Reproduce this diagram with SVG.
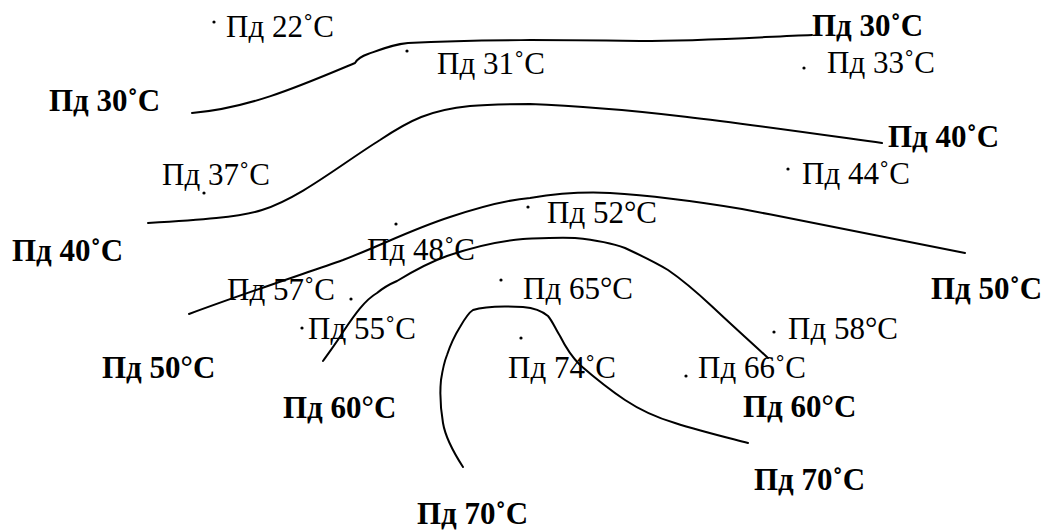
<svg xmlns="http://www.w3.org/2000/svg" width="1050" height="531" viewBox="0 0 1050 531">
<style>
text{font-family:"Liberation Serif","Times New Roman",serif;font-size:31px;fill:#000}
.b{font-weight:bold}
.iso{fill:none;stroke:#000;stroke-width:2;stroke-linecap:round;stroke-linejoin:round}
circle{fill:#000}
</style>
<rect width="1050" height="531" fill="#fff"/>
<g id="connectors">
<path id="iso30" class="iso" d="M192,113 C250,108 300,86 355,63 C358,58 362,56 368,54 C385,48 395,44 408,43 C480,39 560,40 640,41 C700,41 760,37 812,35"/>
<path id="iso40" class="iso" d="M148,223 C200,220 240,217 262,210 C300,198 340,165 380,140 C410,120 430,110 470,106 C490,104 510,104 530,104 C640,108 760,126 882,143"/>
<path id="iso50" class="iso" d="M189,314 C240,295 300,275 343,260 C380,246 410,230 450,217 C480,207 505,200 530,198 C560,193 590,192 610,193 C660,196 700,202 742,209 C820,224 900,240 965,253"/>
<path id="iso60" class="iso" d="M323,361 C330,351 337,342 343,332 C355,314 365,300 377,293 C383,288 390,284 397,281 C415,270 430,262 447,256 C470,248 500,241 523,239 C545,238 560,237 575,238 C595,240 612,243 625,248 C640,255 655,262 668,270 C690,285 705,300 718,312 C735,328 752,343 768,358"/>
<path id="iso70" class="iso" d="M463,467 C452,450 445,435 443,423 C440,405 440,390 441,380 C443,367 445,360 447,355 C451,343 455,335 460,327 C464,320 468,313 473,310 C485,306 505,306 523,307 C535,308 542,311 548,316 C553,322 556,330 560,336 C566,348 572,357 580,365 C595,378 610,390 625,400 C640,410 658,418 675,423 C700,431 725,437 748,443"/>
</g>
<g id="labels-iso">
<g id="l30a"><text class="b" x="49" y="111">Пд 30˚C</text></g>
<g id="l30b"><text class="b" x="812" y="36">Пд 30˚C</text></g>
<g id="l40a"><text class="b" x="12" y="261">Пд 40˚C</text></g>
<g id="l40b"><text class="b" x="888" y="147">Пд 40˚C</text></g>
<g id="l50a"><text class="b" x="102" y="378">Пд 50°C</text></g>
<g id="l50b"><text class="b" x="931" y="299">Пд 50˚C</text></g>
<g id="l60a"><text class="b" x="283" y="418">Пд 60°C</text></g>
<g id="l60b"><text class="b" x="743" y="417">Пд 60°C</text></g>
<g id="l70a"><text class="b" x="417" y="524">Пд 70˚C</text></g>
<g id="l70b"><text class="b" x="754" y="490">Пд 70˚C</text></g>
</g>
<g id="points">
<g id="p22"><circle cx="214" cy="22" r="1.6"/><text x="226" y="37">Пд 22˚C</text></g>
<g id="p31"><circle cx="407" cy="51" r="1.6"/><text x="437" y="74">Пд 31˚C</text></g>
<g id="p33"><circle cx="804" cy="68" r="1.6"/><text x="827" y="73">Пд 33˚C</text></g>
<g id="p37"><circle cx="204" cy="193" r="1.6"/><text x="162" y="185">Пд 37˚C</text></g>
<g id="p44"><circle cx="788" cy="169" r="1.6"/><text x="802" y="184">Пд 44˚C</text></g>
<g id="p52"><circle cx="528" cy="207" r="1.6"/><text x="547" y="223">Пд 52°C</text></g>
<g id="p48"><circle cx="396" cy="224" r="1.6"/><text x="367" y="260">Пд 48˚C</text></g>
<g id="p57"><circle cx="351" cy="299" r="1.6"/><text x="227" y="300">Пд 57˚C</text></g>
<g id="p65"><circle cx="501" cy="280" r="1.6"/><text x="523" y="299">Пд 65°C</text></g>
<g id="p55"><circle cx="302" cy="328" r="1.6"/><text x="308" y="339">Пд 55˚C</text></g>
<g id="p58"><circle cx="774" cy="332" r="1.6"/><text x="788" y="339">Пд 58°C</text></g>
<g id="p74"><circle cx="521" cy="338" r="1.6"/><text x="508" y="378">Пд 74˚C</text></g>
<g id="p66"><circle cx="686" cy="376" r="1.6"/><text x="698" y="378">Пд 66˚C</text></g>
</g>
</svg>
